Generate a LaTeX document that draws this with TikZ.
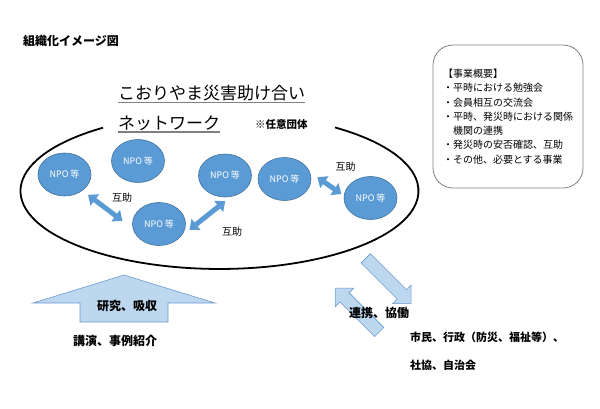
\documentclass[tikz,border=0pt]{standalone}
\usepackage{fontspec}
\setmainfont{Noto Sans CJK JP}
\usetikzlibrary{positioning,calc,arrows.meta,shapes}

\definecolor{npoblue}{HTML}{5B9BD5}
\definecolor{npoline}{HTML}{41719C}
\definecolor{paleblue}{HTML}{BDD7EE}
\definecolor{rimblue}{HTML}{6A9BD0}

\tikzset{
    npo/.style={ellipse, fill=npoblue, draw=npoline, line width=0.6pt, minimum width=53pt, minimum height=43pt, inner sep=0pt, text=white, font=\fontsize{9}{10}\selectfont},
    mutual/.style={draw=npoblue, line width=5pt, {Triangle[width=14pt,length=8.5pt]}-{Triangle[width=14pt,length=8.5pt]}},
    help/.style={font=\fontsize{10}{12}\selectfont, inner sep=0pt},
    fatarrow/.style={fill=paleblue, draw=rimblue, line width=0.6pt},
    caption/.style={font=\bfseries\fontsize{12}{14}\selectfont, inner sep=0pt},
    heading/.style={font=\fontsize{17}{20}\selectfont, inner sep=0pt, anchor=west},
    underline/.style={draw=gray, line width=1.5pt}
}

\begin{document}
\begin{tikzpicture}[x=1pt, y=-1pt]
    \useasboundingbox (0,0) rectangle (600,408);

    \node[caption, anchor=west] (figtitle) at (23,41) {組織化イメージ図};

    % network
    \draw[line width=1.8pt] (103.1,127.7) arc[start angle=125.8, end angle=414.5, x radius=199pt, y radius=78pt];
    \node[heading] (name1) at (118,93) {こおりやま災害助け合い};
    \node[heading] (name2) at (118,123) {ネットワーク};
    \draw[underline] ([yshift=-1.5pt]name1.south west) -- ([yshift=-1.5pt]name1.south east);
    \draw[underline] ([yshift=-1.5pt]name2.south west) -- ([yshift=-1.5pt]name2.south east);
    \node[font=\bfseries\fontsize{10.5}{12}\selectfont, anchor=west, inner sep=0pt] (voluntary) at (255,124) {※任意団体};

    \node[npo] (npo1) at (64.5,174.5) {NPO 等};
    \node[npo] (npo2) at (138,161) {NPO 等};
    \node[npo] (npo3) at (159,224) {NPO 等};
    \node[npo] (npo4) at (225,175.5) {NPO 等};
    \node[npo] (npo5) at (284.5,179) {NPO 等};
    \node[npo] (npo6) at (370.5,198) {NPO 等};

    \draw[mutual, shorten <=7pt, shorten >=13pt] (npo1.-42) -- (npo3.190);
    \draw[mutual, shorten <=11pt, shorten >=7pt] (npo3.-30) -- (npo4.-75);
    \draw[mutual, shorten <=9pt, shorten >=3pt] (npo5.15) -- (npo6.175);
    \node[help] (aid1) at (122,198) {互助};
    \node[help] (aid2) at (232,232) {互助};
    \node[help] (aid3) at (345.6,167) {互助};

    % business outline
    \node[draw=gray, line width=0.8pt, rounded corners=20pt, minimum width=150pt, minimum height=143pt, align=left, font=\fontsize{10}{14.3}\selectfont] (outline) at (508,116.5)
        {【事業概要】\\・平時における勉強会\\・会員相互の交流会\\・平時、発災時における関係\\\hspace*{1em}機関の連携\\・発災時の安否確認、互助\\・その他、必要とする事業};

    % study
    \filldraw[fatarrow] (33,303) -- (124,275) -- (215,303) -- (168,303) -- (168,322) -- (80,322) -- (80,303) -- cycle;
    \node[caption] (study) at (127,306) {研究、吸収};
    \node[caption] (talks) at (115,341) {講演、事例紹介};

    % cooperation
    \begin{scope}[shift={(365.8,258.3)}, rotate=-45]
        \filldraw[fatarrow] (0,-6.5) -- (51,-6.5) -- (51,-13) -- (64,0) -- (51,13) -- (51,6.5) -- (0,6.5) -- cycle;
    \end{scope}
    \begin{scope}[shift={(379.2,332)}, rotate=135]
        \filldraw[fatarrow] (0,-6.5) -- (49,-6.5) -- (49,-13) -- (62,0) -- (49,13) -- (49,6.5) -- (0,6.5) -- cycle;
    \end{scope}
    \node[caption] (coop) at (379,313) {連携、協働};
    \node[caption, font=\bfseries\fontsize{11}{13}\selectfont, anchor=west] (partners1) at (410,337) {市民、行政（防災、福祉等）、};
    \node[caption, font=\bfseries\fontsize{11}{13}\selectfont, anchor=west] (partners2) at (410,365) {社協、自治会};
\end{tikzpicture}
\end{document}
